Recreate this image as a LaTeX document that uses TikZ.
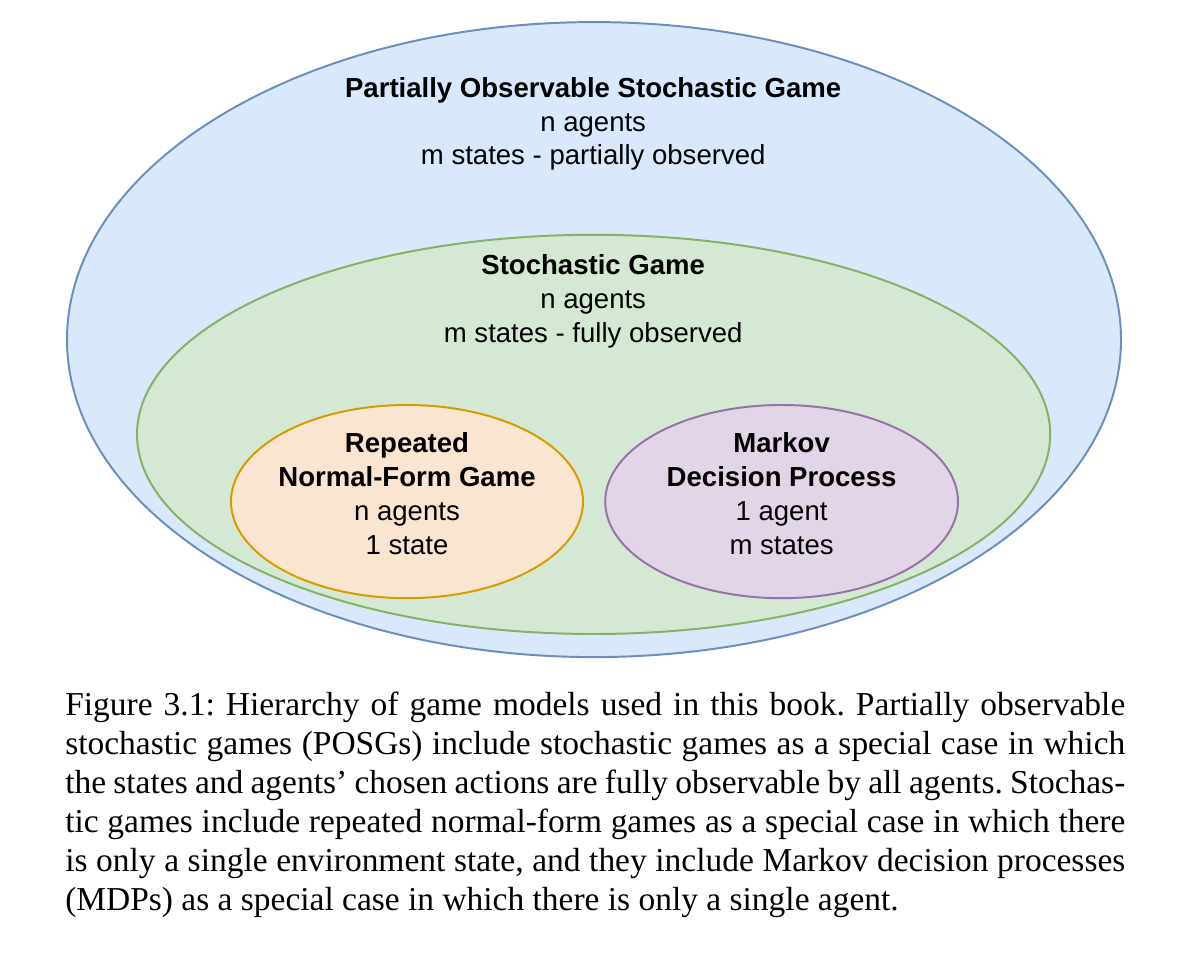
\documentclass[tikz,border=0pt]{standalone}
\usepackage{fontspec}
\setmainfont{Liberation Serif}
\newfontfamily\diagfont{Liberation Sans}
\usetikzlibrary{shapes.geometric}

\definecolor{posgfill}{HTML}{DAE8FC}
\definecolor{posgline}{HTML}{6C8EBF}
\definecolor{sgfill}{HTML}{D5E8D4}
\definecolor{sgline}{HTML}{82B366}
\definecolor{nfgfill}{HTML}{FAE6D0}
\definecolor{nfgline}{HTML}{D79B00}
\definecolor{mdpfill}{HTML}{E1D5E7}
\definecolor{mdpline}{HTML}{9673A6}

\newcommand\figcapsetup{%
  \fontsize{23.8}{27.6}\selectfont\frenchspacing
  \spaceskip=0.25em plus 0.4em minus 0.15em\relax
  \hbadness=10000\relax
  \hfuzz=20pt\relax}

\begin{document}
\begin{tikzpicture}[
    model/.style={ellipse, line width=1.4pt, inner sep=0pt},
    label/.style={align=center, font=\diagfont\fontsize{19.6}{24}\selectfont},
  ]
    \useasboundingbox (0, 0) rectangle (29.85, 24.45);

    % Partially observable stochastic game
    \node[model, draw=posgline, fill=posgfill, minimum width=26.35cm, minimum height=15.875cm]
        (posg) at (14.85, 15.96) {};
    \node[label] (posgtext) at (14.83, 21.35)
        {\textbf{Partially Observable Stochastic Game}\\n agents\\m states - partially observed};

    % Stochastic game
    \node[model, draw=sgline, fill=sgfill, minimum width=22.83cm, minimum height=9.98cm]
        (sg) at (14.84, 13.59) {};
    \node[label] (sgtext) at (14.83, 16.91)
        {\textbf{Stochastic Game}\\n agents\\m states - fully observed};

    % Repeated normal-form game
    \node[model, draw=nfgline, fill=nfgfill, minimum width=8.8cm, minimum height=4.83cm]
        (nfg) at (10.175, 11.91) {};
    \node[label] (nfgtext) at (10.175, 12.11)
        {\textbf{Repeated}\\\textbf{Normal-Form Game}\\n agents\\1 state};

    % Markov decision process
    \node[model, draw=mdpline, fill=mdpfill, minimum width=8.82cm, minimum height=4.83cm]
        (mdp) at (19.54, 11.91) {};
    \node[label] (mdptext) at (19.54, 12.11)
        {\textbf{Markov}\\\textbf{Decision Process}\\1 agent\\m states};

    % Caption
    \node[anchor=base west, inner sep=0pt, text width=26.5cm, align=justify,
          font=\figcapsetup] (caption) at (1.625, 6.55)
        {Figure 3.1: Hierarchy of game models used in this book. Partially observable\linebreak
         stochastic games (POSGs) include stochastic games as a special case in which\linebreak
         the states and agents' chosen actions are fully observable by all agents. Stochas-\linebreak
         tic games include repeated normal-form games as a special case in which there\linebreak
         is only a single environment state, and they include Markov decision processes\linebreak
         (MDPs) as a special case in which there is only a single agent.};
\end{tikzpicture}
\end{document}
